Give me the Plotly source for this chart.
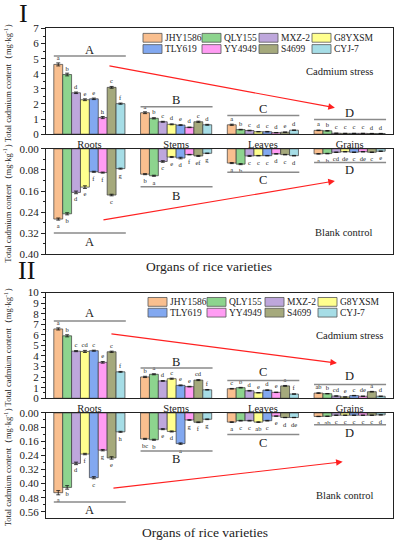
import plotly.graph_objects as go

W, H = 398, 550
FONT = "Liberation Serif"

organs = ["Roots", "Stems", "Leaves", "Grains"]
varieties = ["JHY1586", "QLY155", "MXZ-2", "G8YXSM", "TLY619", "YY4949", "S4699", "CYJ-7"]
colors = ["#F9BF8F", "#8DD48E", "#BEA7DC", "#FFFF8E", "#82A8F0", "#FF9CF3", "#A5A97C", "#A6DDE6"]

# rows = varieties, columns = organs (Roots, Stems, Leaves, Grains)
I_stress = [
    [4.62, 1.42, 0.62, 0.25],
    [3.95, 1.05, 0.30, 0.22],
    [2.74, 0.82, 0.24, 0.06],
    [2.28, 0.65, 0.16, 0.05],
    [2.34, 0.60, 0.16, 0.05],
    [1.10, 0.45, 0.10, 0.05],
    [3.10, 0.82, 0.13, 0.04],
    [2.02, 0.62, 0.26, 0.04],
]
I_stress_err = [
    [0.10, 0.06, 0.04, 0.02],
    [0.09, 0.04, 0.02, 0.02],
    [0.05, 0.03, 0.02, 0.01],
    [0.06, 0.03, 0.01, 0.01],
    [0.05, 0.03, 0.02, 0.01],
    [0.07, 0.02, 0.01, 0.01],
    [0.06, 0.04, 0.01, 0.01],
    [0.04, 0.03, 0.02, 0.01],
]
I_stress_sig = [
    ["a", "a", "a", "a"],
    ["b", "b", "b", "b"],
    ["d", "c", "c", "c"],
    ["e", "d", "d", "c"],
    ["e", "e", "c", "c"],
    ["h", "d", "d", "c"],
    ["c", "c", "e", "d"],
    ["f", "d", "d", "d"],
]

I_blank = [
    [0.266, 0.096, 0.054, 0.019],
    [0.246, 0.102, 0.058, 0.018],
    [0.165, 0.048, 0.027, 0.013],
    [0.145, 0.031, 0.026, 0.011],
    [0.087, 0.035, 0.026, 0.013],
    [0.090, 0.022, 0.019, 0.011],
    [0.175, 0.027, 0.022, 0.013],
    [0.075, 0.017, 0.026, 0.009],
]
I_blank_err = [
    [0.004, 0.002, 0.002, 0.001],
    [0.004, 0.002, 0.002, 0.001],
    [0.005, 0.003, 0.002, 0.001],
    [0.005, 0.002, 0.001, 0.001],
    [0.002, 0.003, 0.001, 0.001],
    [0.002, 0.001, 0.001, 0.001],
    [0.003, 0.002, 0.001, 0.001],
    [0.002, 0.001, 0.001, 0.001],
]
I_blank_sig = [
    ["a", "b", "a", "a"],
    ["b", "a", "b", "b"],
    ["d", "c", "c", "cd"],
    ["e", "e", "c", "de"],
    ["f", "d", "c", "c"],
    ["f", "f", "d", "de"],
    ["c", "ef", "c", "c"],
    ["g", "g", "d", "e"],
]

II_stress = [
    [6.56, 2.02, 0.90, 0.49],
    [5.91, 2.27, 1.00, 0.43],
    [4.46, 1.64, 0.71, 0.21],
    [4.43, 1.85, 0.52, 0.12],
    [4.50, 1.22, 0.77, 0.25],
    [3.40, 1.10, 0.56, 0.19],
    [4.40, 1.72, 1.17, 0.62],
    [2.50, 0.80, 0.40, 0.19],
]
II_stress_err = [
    [0.10, 0.06, 0.03, 0.03],
    [0.10, 0.05, 0.03, 0.02],
    [0.05, 0.04, 0.03, 0.02],
    [0.10, 0.05, 0.02, 0.01],
    [0.05, 0.04, 0.03, 0.02],
    [0.08, 0.03, 0.02, 0.02],
    [0.06, 0.05, 0.04, 0.03],
    [0.04, 0.03, 0.02, 0.02],
]
II_stress_sig = [
    ["a", "b", "c", "ab"],
    ["b", "a", "b", "b"],
    ["c", "d", "d", "cd"],
    ["cd", "c", "e", "e"],
    ["c", "e", "d", "c"],
    ["e", "e", "e", "de"],
    ["c", "cd", "a", "a"],
    ["f", "f", "f", "d"],
]

II_blank = [
    [0.452, 0.147, 0.052, 0.020],
    [0.422, 0.152, 0.044, 0.019],
    [0.286, 0.092, 0.044, 0.013],
    [0.233, 0.105, 0.052, 0.013],
    [0.367, 0.174, 0.044, 0.013],
    [0.211, 0.040, 0.018, 0.013],
    [0.255, 0.053, 0.026, 0.013],
    [0.107, 0.036, 0.026, 0.011],
]
II_blank_err = [
    [0.012, 0.003, 0.002, 0.001],
    [0.010, 0.003, 0.002, 0.001],
    [0.007, 0.003, 0.002, 0.001],
    [0.004, 0.003, 0.002, 0.001],
    [0.006, 0.004, 0.002, 0.001],
    [0.004, 0.002, 0.001, 0.001],
    [0.007, 0.002, 0.001, 0.001],
    [0.003, 0.002, 0.001, 0.001],
]
II_blank_sig = [
    ["a", "bc", "a", "a"],
    ["b", "b", "c", "ab"],
    ["d", "e", "c", "c"],
    ["f", "d", "ab", "c"],
    ["c", "a", "c", "c"],
    ["g", "g", "e", "c"],
    ["e", "f", "d", "c"],
    ["h", "g", "de", "d"],
]

group_letters = ["A", "B", "C", "D"]
# (line y, label y) for each organ group, per subplot, in data units
I_stress_groups = [(5.18, 5.57), (1.81, 2.27), (1.23, 1.68), (0.97, 1.43)]
I_blank_groups = [(0.319, 0.352), (0.144, 0.178), (0.089, 0.119), (0.052, 0.081)]
II_stress_groups = [(7.31, 8.06), (2.87, 3.43), (1.67, 2.50), (1.30, 2.13)]
II_blank_groups = [(0.504, 0.549), (0.216, 0.260), (0.122, 0.170), (0.067, 0.116)]


def px(x):
    return x / W


def py(y):
    return 1 - y / H


fig = go.Figure()

panels = [
    # (values, errors, letters, axis suffix, groups)
    (I_stress, I_stress_err, I_stress_sig, "", I_stress_groups),
    (I_blank, I_blank_err, I_blank_sig, "2", I_blank_groups),
    (II_stress, II_stress_err, II_stress_sig, "3", II_stress_groups),
    (II_blank, II_blank_err, II_blank_sig, "4", II_blank_groups),
]

for vals, errs, sigs, sfx, groups in panels:
    for i, name in enumerate(varieties):
        fig.add_trace(go.Bar(
            x=organs, y=vals[i], name=name,
            xaxis="x" + sfx, yaxis="y" + sfx,
            marker=dict(color=colors[i], line=dict(color="#3a3a3a", width=0.7)),
            error_y=dict(type="data", array=errs[i], color="#111", thickness=0.8, width=2),
            text=sigs[i], textposition="outside", constraintext="none",
            textfont=dict(size=6.5, color="#222", family=FONT),
            cliponaxis=False, showlegend=False,
        ))

xdom = [px(46), px(393)]
ydoms = {
    "": [py(131), py(23)],
    "2": [py(254), py(146)],
    "3": [py(401), py(293)],
    "4": [py(523), py(416)],
}
yranges = {"": [0, 7], "2": [0.40, 0], "3": [0, 10], "4": [0.593, 0]}
ydticks = {"": 1, "2": 0.08, "3": 1, "4": 0.08}
yminor = {"": 0.5, "2": 0.04, "3": 0.5, "4": 0.04}
yfmt = {"": "d", "2": ".2f", "3": "d", "4": ".2f"}

layout = dict(
    width=W, height=H, margin=dict(l=0, r=0, t=0, b=0),
    paper_bgcolor="white", plot_bgcolor="white",
    barmode="group", bargap=0.18, bargroupgap=0,
    font=dict(family=FONT, color="#222"),
)
for sfx in ["", "2", "3", "4"]:
    top = sfx in ("", "3")
    layout["xaxis" + sfx] = dict(
        domain=xdom, anchor="y" + sfx, type="category", range=[-0.5, 3.5],
        showline=True, mirror=True, linecolor="#222", linewidth=1,
        ticks="", showticklabels=top, tickfont=dict(size=10.5, family=FONT, color="#222"),
        showgrid=False, zeroline=False, fixedrange=True,
    )
    layout["yaxis" + sfx] = dict(
        domain=ydoms[sfx], anchor="x" + sfx, range=yranges[sfx],
        dtick=ydticks[sfx], tick0=0, tickformat=yfmt[sfx],
        ticks="outside", ticklen=4, tickcolor="#222", tickwidth=1,
        minor=dict(ticks="outside", ticklen=2, dtick=yminor[sfx], tickcolor="#222"),
        showline=True, mirror=True, linecolor="#222", linewidth=1,
        tickfont=dict(size=11, family=FONT, color="#222"),
        showgrid=False, zeroline=False, fixedrange=True,
    )

annotations = []
shapes = []

# group lines and labels
for vals, errs, sigs, sfx, groups in panels:
    for k, (ly, ty) in enumerate(groups):
        shapes.append(dict(type="line", xref="x" + sfx, yref="y" + sfx,
                           x0=k - 0.41, x1=k + 0.42, y0=ly, y1=ly,
                           line=dict(color="#8a8a8a", width=1.5)))
        annotations.append(dict(xref="x" + sfx, yref="y" + sfx, x=k, y=ty,
                                text=group_letters[k], showarrow=False,
                                font=dict(size=12.5, family=FONT, color="#222"),
                                xanchor="center", yanchor="middle"))

# red arrows (tail -> head) in data units of each subplot
arrows = [
    ("", (0.214, 4.54), (2.83, 1.75)),
    ("2", (0.145, 0.270), (2.83, 0.122)),
    ("3", (0.237, 6.11), (2.854, 3.33)),
    ("4", (0.26, 0.427), (2.92, 0.277)),
]
for sfx, tail, head in arrows:
    annotations.append(dict(xref="x" + sfx, yref="y" + sfx, axref="x" + sfx, ayref="y" + sfx,
                            x=head[0], y=head[1], ax=tail[0], ay=tail[1], text="",
                            showarrow=True, arrowhead=2, arrowsize=1.2, arrowwidth=1.1,
                            arrowcolor="#ff2020"))

# condition labels
for sfx, label, (x, y) in [("", "Cadmium stress", (339, 67)), ("2", "Blank control", (344, 232)),
                           ("3", "Cadmium stress", (349, 337)), ("4", "Blank control", (345, 500))]:
    annotations.append(dict(xref="paper", yref="paper", x=px(x), y=py(y), text=label,
                            showarrow=False, font=dict(size=10.5, family=FONT, color="#222"),
                            xanchor="center", yanchor="middle"))

# y-axis titles
for sfx in ["", "2", "3", "4"]:
    d = ydoms[sfx]
    annotations.append(dict(xref="paper", yref="paper", x=px(8), y=(d[0] + d[1]) / 2,
                            text="Total cadmium content（mg·kg<sup>-1</sup>）", textangle=-90,
                            showarrow=False, font=dict(size=8.5, family=FONT, color="#222"),
                            xanchor="center", yanchor="middle"))

# x-axis titles
for (x, y) in [(209, 266), (205, 538)]:
    annotations.append(dict(xref="paper", yref="paper", x=px(x), y=py(y),
                            text="Organs of rice varieties", showarrow=False,
                            font=dict(size=13.5, family=FONT, color="#222"),
                            xanchor="center", yanchor="middle"))

# panel numerals
for (txt, x, y) in [("I", 23.5, 8), ("II", 26, 270)]:
    annotations.append(dict(xref="paper", yref="paper", x=px(x), y=py(y), text=txt,
                            showarrow=False, font=dict(size=26, family=FONT, color="#111"),
                            xanchor="center", yanchor="middle"))

# legends (drawn inside the top plots)
legend_cols = {"": [143, 202, 259, 312], "3": [148, 207, 265, 318]}
legend_rows = {"": [32.5, 44], "3": [302.5, 313.5]}
for sfx in ["", "3"]:
    for i, name in enumerate(varieties):
        r, c = divmod(i, 4)
        x0 = legend_cols[sfx][c]
        yc = legend_rows[sfx][r]
        shapes.append(dict(type="rect", xref="paper", yref="paper",
                           x0=px(x0), x1=px(x0 + 19), y0=py(yc + 4.5), y1=py(yc - 4.5),
                           fillcolor=colors[i], line=dict(color="#555", width=0.8)))
        annotations.append(dict(xref="paper", yref="paper", x=px(x0 + 20), y=py(yc),
                                text=name, showarrow=False,
                                font=dict(size=9.5, family=FONT, color="#222"),
                                xanchor="left", yanchor="middle"))

layout["annotations"] = annotations
layout["shapes"] = shapes
fig.update_layout(**layout)
fig.write_html("out.html", config={"displayModeBar": False},
               post_script="document.body.style.margin='0';")
